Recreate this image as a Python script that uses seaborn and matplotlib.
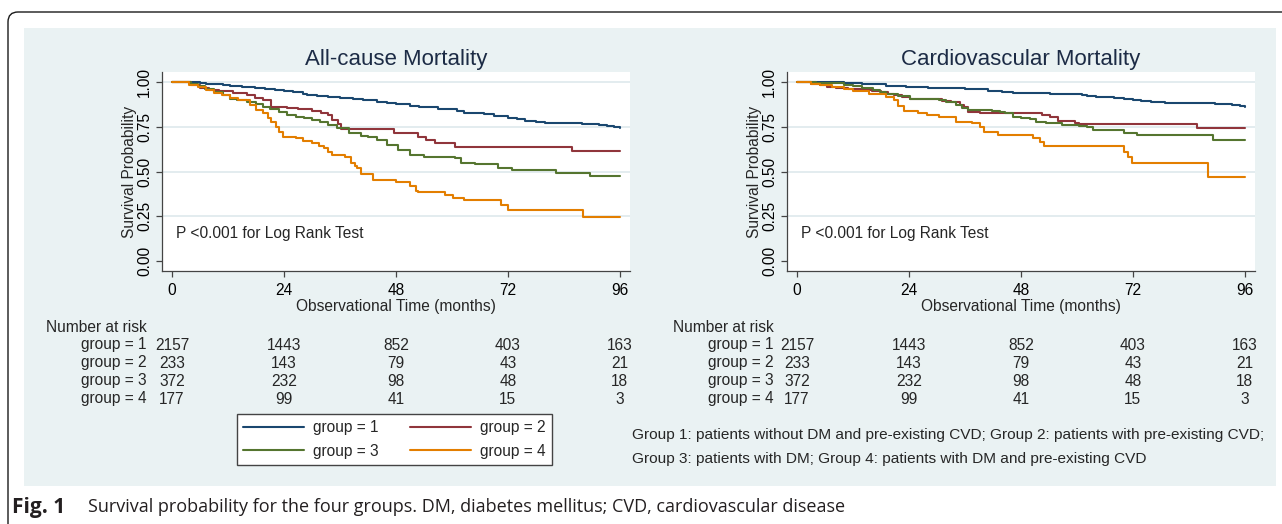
import numpy as np
import pandas as pd
import matplotlib
matplotlib.use("Agg")
import matplotlib.pyplot as plt
import matplotlib.transforms as mtransforms
from matplotlib.patches import FancyBboxPatch, Rectangle
import seaborn as sns

# ---------------------------------------------------------------- data
month_ticks = [0, 24, 48, 72, 96]
group_labels = ["group = 1", "group = 2", "group = 3", "group = 4"]
group_colors = ["#1a476f", "#90353b", "#55752f", "#e37e00"]

# All-cause mortality: Kaplan-Meier step points (month, survival)
ac_g1_t = [0, 4.6, 6, 7.2, 9, 11, 12.5, 15, 17.7, 20, 22, 24, 26, 28, 29, 31, 33.5, 36, 38.8, 41, 44, 46, 48,
           51, 53, 54.6, 57, 59, 61, 62.5, 65, 66.9, 69, 72.1, 74, 75.6, 78, 80, 86.2, 88, 89.7, 91.5, 93.2, 94.8, 96]
ac_g1_s = [1.0, 0.997, 0.993, 0.99, 0.986, 0.98, 0.976, 0.97, 0.963, 0.958, 0.954, 0.95, 0.942, 0.932, 0.926, 0.92,
           0.913, 0.908, 0.904, 0.897, 0.889, 0.882, 0.876, 0.867, 0.862, 0.857, 0.851, 0.846, 0.836, 0.828, 0.824,
           0.82, 0.812, 0.80, 0.792, 0.783, 0.776, 0.772, 0.77, 0.767, 0.765, 0.76, 0.756, 0.75, 0.744]
ac_g2_t = [0, 4, 6, 8, 10, 13, 16, 17.7, 19.5, 21.2, 24.7, 27, 30, 32, 33.5, 34.4, 35.5, 36.2, 47.6, 52.8, 54.5,
           56.3, 60.7, 85.7, 96]
ac_g2_s = [1.0, 0.985, 0.965, 0.955, 0.95, 0.94, 0.925, 0.91, 0.898, 0.86, 0.852, 0.85, 0.835, 0.825, 0.815, 0.79,
           0.765, 0.735, 0.713, 0.69, 0.676, 0.66, 0.638, 0.617, 0.617]
ac_g3_t = [0, 4, 5.5, 7, 9, 11, 12.5, 14, 16, 18, 19.5, 21, 23, 24.7, 26.5, 28.3, 30, 31.8, 33.5, 35.3, 37.9, 40.5,
           42, 44, 46.2, 48.4, 51, 54, 60.7, 62, 65, 70, 73, 82.3, 89.7, 96]
ac_g3_s = [1.0, 0.99, 0.975, 0.96, 0.944, 0.925, 0.907, 0.9, 0.889, 0.875, 0.86, 0.85, 0.833, 0.815, 0.805, 0.796,
           0.785, 0.778, 0.76, 0.74, 0.713, 0.698, 0.69, 0.676, 0.648, 0.62, 0.593, 0.583, 0.574, 0.55, 0.543, 0.52,
           0.506, 0.494, 0.476, 0.476]
ac_g4_t = [0, 3.7, 5.5, 7.2, 9, 10.7, 12.5, 14.2, 16.8, 18, 19.5, 20.5, 21.2, 22.2, 23, 23.9, 26.5, 28, 30, 31.5,
           32.6, 33.5, 34.4, 37, 38.3, 39.2, 39.7, 40.5, 43.2, 48, 51, 52.4, 52.8, 58.5, 60.3, 62.5, 70.5, 72.1,
           88.2, 96]
ac_g4_s = [1.0, 0.985, 0.97, 0.954, 0.94, 0.926, 0.912, 0.898, 0.87, 0.845, 0.824, 0.8, 0.778, 0.75, 0.722, 0.694,
           0.685, 0.672, 0.657, 0.645, 0.63, 0.61, 0.593, 0.583, 0.546, 0.53, 0.519, 0.487, 0.454, 0.444, 0.417,
           0.389, 0.383, 0.37, 0.352, 0.343, 0.315, 0.287, 0.246, 0.246]

# Cardiovascular mortality: Kaplan-Meier step points (month, survival)
cv_g1_t = [0, 7.5, 10.1, 14, 19, 23.4, 28, 32.2, 36, 41, 44, 46.3, 50, 54.3, 59.6, 61, 62.2, 64, 66.6, 68, 70.1,
           72, 73.7, 76, 79, 85.1, 89.6, 93.2, 95, 96]
cv_g1_s = [1.0, 0.997, 0.991, 0.986, 0.978, 0.972, 0.968, 0.963, 0.958, 0.95, 0.944, 0.939, 0.937, 0.935, 0.931,
           0.926, 0.92, 0.917, 0.913, 0.908, 0.902, 0.898, 0.893, 0.888, 0.883, 0.88, 0.876, 0.87, 0.866, 0.861]
cv_g2_t = [0, 3.1, 4.9, 6.5, 8.4, 11, 13.7, 16, 18.1, 19.5, 20.7, 22.5, 24.3, 29.6, 31, 33.1, 34.9, 35.7, 36.6,
           39.3, 52.5, 54.3, 56, 59.6, 60.4, 85.8, 96]
cv_g2_s = [1.0, 0.99, 0.981, 0.972, 0.963, 0.958, 0.954, 0.95, 0.944, 0.935, 0.926, 0.915, 0.907, 0.902, 0.895,
           0.889, 0.87, 0.857, 0.833, 0.826, 0.815, 0.802, 0.783, 0.772, 0.763, 0.741, 0.741]
cv_g3_t = [0, 4, 7.5, 10, 11.9, 14, 16.3, 17.8, 19, 21.6, 24.3, 27, 30.4, 32, 34, 35.3, 36.6, 41.9, 43.5, 44.6,
           46.3, 48, 49.9, 51.2, 53.4, 56.9, 60.4, 62.2, 63.5, 70.1, 72.8, 89.1, 96]
cv_g3_s = [1.0, 0.996, 0.991, 0.983, 0.976, 0.967, 0.957, 0.945, 0.935, 0.92, 0.907, 0.902, 0.898, 0.885, 0.87,
           0.855, 0.843, 0.839, 0.83, 0.824, 0.806, 0.798, 0.791, 0.778, 0.769, 0.759, 0.754, 0.746, 0.731, 0.717,
           0.704, 0.676, 0.676]
cv_g4_t = [0, 3.1, 4.9, 7.5, 10, 11.9, 15.4, 19, 20.7, 21.6, 22.9, 26, 27.8, 30.4, 34, 37.5, 39.3, 40.1, 43.2,
           50.7, 52.1, 52.9, 70.1, 71, 71.9, 88.2, 96]
cv_g4_s = [1.0, 0.99, 0.981, 0.969, 0.96, 0.95, 0.935, 0.917, 0.898, 0.865, 0.839, 0.828, 0.815, 0.806, 0.778,
           0.769, 0.75, 0.722, 0.704, 0.685, 0.667, 0.644, 0.611, 0.583, 0.546, 0.467, 0.467]

# Number at risk at 0, 24, 48, 72, 96 months
at_risk_g1 = [2157, 1443, 852, 403, 163]
at_risk_g2 = [233, 143, 79, 43, 21]
at_risk_g3 = [372, 232, 98, 48, 18]
at_risk_g4 = [177, 99, 41, 15, 3]

panel_titles = ["All-cause Mortality", "Cardiovascular Mortality"]
p_text = "P <0.001 for Log Rank Test"
footnote_lines = [
    "Group 1: patients without DM and pre-existing CVD; Group 2: patients with pre-existing CVD;",
    "Group 3: patients with DM; Group 4: patients with DM and pre-existing CVD",
]
caption_bold = "Fig. 1"
caption_text = "Survival probability for the four groups. DM, diabetes mellitus; CVD, cardiovascular disease"


def km_frame(times, survs):
    rows = []
    for lab, t, s in zip(group_labels, times, survs):
        rows.append(pd.DataFrame({"month": t, "surv": s, "group": lab}))
    return pd.concat(rows, ignore_index=True)


panels = [
    km_frame([ac_g1_t, ac_g2_t, ac_g3_t, ac_g4_t], [ac_g1_s, ac_g2_s, ac_g3_s, ac_g4_s]),
    km_frame([cv_g1_t, cv_g2_t, cv_g3_t, cv_g4_t], [cv_g1_s, cv_g2_s, cv_g3_s, cv_g4_s]),
]
at_risk = [at_risk_g1, at_risk_g2, at_risk_g3, at_risk_g4]

# ---------------------------------------------------------------- figure
sns.set_style("ticks")
plt.rcParams["font.family"] = ["Liberation Sans", "DejaVu Sans"]

W, H = 1282, 524
fig = plt.figure(figsize=(W / 100, H / 100), dpi=100)
fig.patch.set_facecolor("white")


def fx(x):
    return x / W


def fy(y):
    return 1 - y / H


# outer rounded frame and tinted graph region (behind the axes)
frame = FancyBboxPatch((0.08, -0.6), 14.0, 5.12 + 0.6,
                       boxstyle="round,pad=0,rounding_size=0.1",
                       transform=fig.dpi_scale_trans, fc="white", ec="#1a1a1a", lw=1.0, zorder=-3)
fig.add_artist(frame)
fig.add_artist(Rectangle((fx(24), fy(486)), fx(1276) - fx(24), fy(28) - fy(486),
                         transform=fig.transFigure, fc="#eaf2f3", ec="none", zorder=-2))

TXT = 11.2
axes_px = [(162, 630), (787, 1255)]
label_x = [(46, 81), (673, 708)]
TOP, BOT = 72, 271
XLIM = (-2.15, 98.2)

for k, (df, (xl, xr)) in enumerate(zip(panels, axes_px)):
    ax = fig.add_axes([fx(xl), fy(BOT), fx(xr) - fx(xl), (BOT - TOP) / H])
    ax.set_facecolor("white")
    sns.lineplot(data=df, x="month", y="surv", hue="group", hue_order=group_labels,
                 palette=group_colors, estimator=None, drawstyle="steps-post",
                 linewidth=1.5, legend=False, ax=ax, zorder=3)
    ax.set_xlim(*XLIM)
    ax.set_ylim(-0.055, 1.055)
    ax.set_xticks(month_ticks)
    ax.set_xticklabels([str(m) for m in month_ticks], fontsize=TXT)
    yt = [0, 0.25, 0.5, 0.75, 1.0]
    ax.set_yticks(yt)
    ax.set_yticklabels([f"{v:.2f}" for v in yt], fontsize=TXT, rotation=90, va="center")
    ax.grid(axis="y", color="#e1eaee", lw=1.3)
    ax.yaxis.get_gridlines()[0].set_visible(False)
    ax.set_axisbelow(True)
    for side in ["top", "right"]:
        ax.spines[side].set_visible(False)
    for side in ["left", "bottom"]:
        ax.spines[side].set_color("#444444")
        ax.spines[side].set_linewidth(0.9)
    ax.tick_params(axis="both", colors="#444444", labelcolor="black", length=4, width=0.9)
    ax.tick_params(axis="y", pad=3)
    ax.tick_params(axis="x", pad=4.5)
    ax.set_xlabel("Observational Time (months)", fontsize=TXT, labelpad=0.5)
    ax.set_ylabel("Survival Probability", fontsize=TXT, labelpad=0)
    ax.set_title(panel_titles[k], fontsize=16, color="#1c2b45", pad=5)
    ax.text(0.9, 0.155, p_text, fontsize=TXT, va="center", ha="left")

    # number-at-risk table aligned with the x ticks
    trans = mtransforms.blended_transform_factory(ax.transData, fig.transFigure)
    lx0, lx1 = label_x[k]
    fig.text(fx(lx0), fy(327), "Number at risk", fontsize=TXT, va="center")
    for r, (lab, counts) in enumerate(zip(group_labels, at_risk)):
        yy = fy(345 + 18 * r)
        fig.text(fx(lx1), yy, lab, fontsize=TXT, va="center")
        for m, c in zip(month_ticks, counts):
            ax.text(m, yy, str(c), transform=trans, fontsize=TXT, va="center", ha="center", clip_on=False)

    if k == 0:
        lines = ax.get_lines()[:4]
        order = [0, 2, 1, 3]  # legend fills column-wise; this gives 1,2 / 3,4 by row
        fig.legend([lines[i] for i in order], [group_labels[i] for i in order], ncol=2, loc="center",
                   bbox_to_anchor=(fx(394.5), fy(439.5)), fontsize=TXT,
                   frameon=True, fancybox=False, edgecolor="#444444", framealpha=1,
                   handlelength=3.9, handletextpad=0.6, columnspacing=2.0,
                   labelspacing=0.55, borderpad=0.4)

# group definitions
for i, line in enumerate(footnote_lines):
    fig.text(fx(632), fy(435 + 24 * i), line, fontsize=11.1, va="center")

# figure caption
cap_font = ["Open Sans", "DejaVu Sans"]
fig.text(fx(12), fy(507), caption_bold, fontsize=15, fontweight="bold", family=cap_font,
         va="center", color="#231f20")
fig.text(fx(88), fy(507), caption_text, fontsize=12.95, family=cap_font, va="center", color="#231f20")

fig.savefig("out.png", dpi=100)
